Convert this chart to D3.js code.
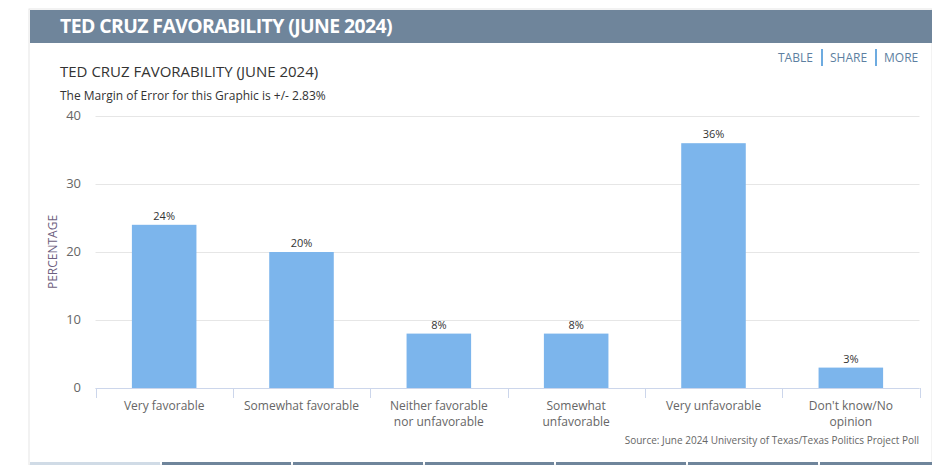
<!DOCTYPE html>
<html>
<head>
<meta charset="utf-8">
<script src="https://cdn.jsdelivr.net/npm/d3@7"></script>
<style>
  body { margin: 0; background: #fff; }
  svg { display: block; font-family: "Open Sans", "DejaVu Sans", sans-serif; }
</style>
</head>
<body>
<script>
// data
const categories = ["Very favorable", "Somewhat favorable", "Neither favorable nor unfavorable",
  "Somewhat unfavorable", "Very unfavorable", "Don't know/No opinion"];
const categoryLines = [["Very favorable"], ["Somewhat favorable"], ["Neither favorable", "nor unfavorable"],
  ["Somewhat", "unfavorable"], ["Very unfavorable"], ["Don't know/No", "opinion"]];
const values = [24, 20, 8, 8, 36, 3];
const yTicks = [0, 10, 20, 30, 40];
const tabs = [30, 162, 293, 425, 556, 688, 820, 940];

const W = 932, H = 465;
const svg = d3.select("body").append("svg").attr("width", W).attr("height", H);

// card + header
svg.append("rect").attr("x", 29).attr("y", 9).attr("width", W - 29).attr("height", H - 9)
  .attr("fill", "#fff").attr("stroke", "#e6e6e6");
svg.append("rect").attr("x", 30).attr("y", 10).attr("width", W - 30).attr("height", 33).attr("fill", "#6f859b");
svg.append("text").text("TED CRUZ FAVORABILITY (JUNE 2024)")
  .attr("x", 60).attr("y", 33).attr("fill", "#fff")
  .style("font-size", "20px").style("font-weight", "bold").style("letter-spacing", "-0.6px")
  .attr("textLength", 332).attr("lengthAdjust", "spacingAndGlyphs");

// links top right
const links = [["TABLE", 778], ["SHARE", 830], ["MORE", 884]];
links.forEach(([t, x]) => {
  svg.append("text").text(t).attr("x", x).attr("y", 62).attr("fill", "#5d7fa1").style("font-size", "12px");
});
[822, 876].forEach(x => {
  svg.append("line").attr("x1", x).attr("x2", x).attr("y1", 49).attr("y2", 66)
    .attr("stroke", "#3d8fd6").attr("stroke-width", 1.5);
});

// title
svg.append("text").text("TED CRUZ FAVORABILITY (JUNE 2024)")
  .attr("x", 60).attr("y", 77).attr("fill", "#333").style("font-size", "15px");
svg.append("text").text("The Margin of Error for this Graphic is +/- 2.83%")
  .attr("x", 60).attr("y", 100).attr("fill", "#333").style("font-size", "12px");

// scales
const x = d3.scaleBand().domain(categories).range([95.5, 919.5]).paddingInner(0.53).paddingOuter(0.265);
const xb = d3.scaleBand().domain(categories).range([95.5, 919.5]);
const y = d3.scaleLinear().domain([0, 40]).range([388, 116]);

// grid
yTicks.forEach(t => {
  svg.append("line").attr("x1", 95.5).attr("x2", 919.5).attr("y1", y(t) + 0.5).attr("y2", y(t) + 0.5)
    .attr("stroke", "#e6e6e6");
  svg.append("text").text(t).attr("x", 81).attr("y", y(t) + 4).attr("text-anchor", "end")
    .attr("fill", "#666").style("font-size", "13px");
});

// y title
svg.append("text").text("PERCENTAGE")
  .attr("transform", `translate(57,${y(20)}) rotate(-90)`).attr("text-anchor", "middle")
  .attr("fill", "#6e6080").style("font-size", "12px");

// bars
svg.selectAll("rect.bar").data(values).enter().append("rect").attr("class", "bar")
  .attr("x", (d, i) => x(categories[i])).attr("width", x.bandwidth())
  .attr("y", d => y(d)).attr("height", d => y(0) - y(d)).attr("fill", "#7cb5ec");

// data labels
svg.selectAll("text.dl").data(values).enter().append("text").attr("class", "dl")
  .text(d => d + "%").attr("x", (d, i) => x(categories[i]) + x.bandwidth() / 2)
  .attr("y", d => y(d) - 5).attr("text-anchor", "middle").attr("fill", "#333").style("font-size", "11px");

// x axis
svg.append("line").attr("x1", 95.5).attr("x2", 919.5).attr("y1", 388.5).attr("y2", 388.5).attr("stroke", "#ccd6eb");
categories.forEach((c, i) => {
  [xb(c), xb(c) + xb.bandwidth()].forEach(px => {
    svg.append("line").attr("x1", Math.round(px) + 0.5).attr("x2", Math.round(px) + 0.5)
      .attr("y1", 388).attr("y2", 398).attr("stroke", "#ccd6eb");
  });
  const tx = svg.append("text").attr("text-anchor", "middle").attr("fill", "#666").style("font-size", "12px");
  categoryLines[i].forEach((ln, j) => {
    tx.append("tspan").text(ln).attr("x", xb(c) + xb.bandwidth() / 2).attr("y", 410 + j * 15.5);
  });
});

// source
svg.append("text").text("Source: June 2024 University of Texas/Texas Politics Project Poll")
  .attr("x", 919).attr("y", 444).attr("text-anchor", "end").attr("fill", "#666").style("font-size", "10px");

// bottom tabs
tabs.slice(0, -1).forEach((t, i) => {
  svg.append("rect").attr("x", t).attr("y", 462).attr("width", tabs[i + 1] - t - 2).attr("height", 4)
    .attr("fill", i === 0 ? "#d0dbe6" : "#6f859b");
});
</script>
</body>
</html>
